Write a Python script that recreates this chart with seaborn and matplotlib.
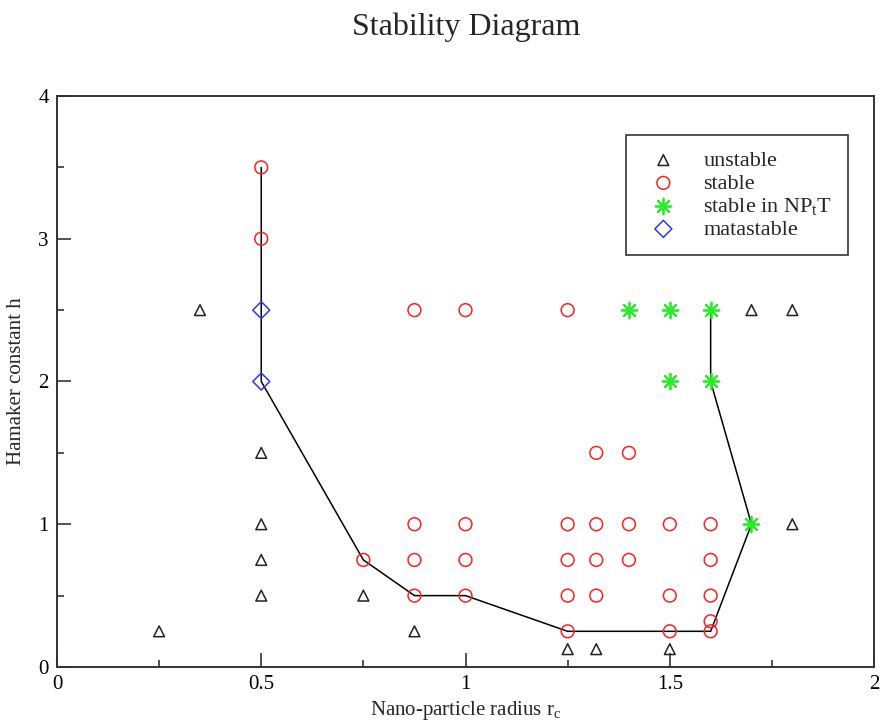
import matplotlib
matplotlib.use("Agg")
import matplotlib.pyplot as plt
import seaborn as sns
from matplotlib.ticker import MultipleLocator

unstable_x = [0.25, 0.35, 0.5, 0.5, 0.5, 0.5, 0.75, 0.875, 1.25, 1.32, 1.5, 1.7, 1.8, 1.8]
unstable_y = [0.25, 2.5, 1.5, 1.0, 0.75, 0.5, 0.5, 0.25, 0.125, 0.125, 0.125, 2.5, 2.5, 1.0]

stable_x = [0.5, 0.5, 0.875, 1.0, 1.25, 1.32, 1.4, 0.75,
            0.875, 0.875, 0.875, 1.0, 1.0, 1.0,
            1.25, 1.25, 1.25, 1.25, 1.32, 1.32, 1.32, 1.4, 1.4,
            1.5, 1.5, 1.5, 1.6, 1.6, 1.6, 1.6, 1.6]
stable_y = [3.5, 3.0, 2.5, 2.5, 2.5, 1.5, 1.5, 0.75,
            1.0, 0.75, 0.5, 1.0, 0.75, 0.5,
            1.0, 0.75, 0.5, 0.25, 1.0, 0.75, 0.5, 1.0, 0.75,
            1.0, 0.5, 0.25, 1.0, 0.75, 0.5, 0.32, 0.25]

nptt_x = [1.4, 1.5, 1.6, 1.5, 1.6, 1.7]
nptt_y = [2.5, 2.5, 2.5, 2.0, 2.0, 1.0]

meta_x = [0.5, 0.5]
meta_y = [2.5, 2.0]

boundary_x = [0.5, 0.5, 0.75, 0.875, 1.0, 1.25, 1.6, 1.7, 1.6, 1.6]
boundary_y = [3.5, 2.0, 0.75, 0.5, 0.5, 0.25, 0.25, 1.0, 2.0, 2.5]

x_ticks = [0, 0.5, 1, 1.5, 2]
x_ticklabels = ['0', '0.5', '1', '1.5', '2']
y_ticks = [0, 1, 2, 3, 4]
y_ticklabels = ['0', '1', '2', '3', '4']

sns.set_style("ticks")
plt.rcParams['font.family'] = ['Liberation Serif', 'DejaVu Serif']
plt.rcParams['mathtext.fontset'] = 'custom'
plt.rcParams['mathtext.rm'] = 'Liberation Serif'
plt.rcParams['mathtext.it'] = 'Liberation Serif'

fig = plt.figure(figsize=(8.82, 7.25), dpi=100)
ax = fig.add_axes([0.0646, 0.08, 0.9264, 0.7876])

sns.lineplot(x=boundary_x, y=boundary_y, sort=False, estimator=None, color='black',
             linewidth=1.1, ax=ax, zorder=1)

sns.scatterplot(x=unstable_x, y=unstable_y, marker='^', s=60, facecolor='none',
                edgecolor='#222222', linewidth=1.1, label='unstable', ax=ax, zorder=3)
sns.scatterplot(x=stable_x, y=stable_y, marker='o', s=85, facecolor='none',
                edgecolor='#ff2020', linewidth=1.1, label='stable', ax=ax, zorder=3)
sns.scatterplot(x=nptt_x, y=nptt_y, marker=(8, 2, 0), s=130, color='#22ee22',
                linewidth=1.3, label='stable in NP$_\\mathrm{t}$T', ax=ax, zorder=3)
sns.scatterplot(x=meta_x, y=meta_y, marker='D', s=75, facecolor='none',
                edgecolor='#3333ff', linewidth=1.1, label='matastable', ax=ax, zorder=3)

ax.set_xlim(0, 2)
ax.set_ylim(0, 4)
ax.set_xticks(x_ticks)
ax.set_xticklabels(x_ticklabels)
ax.set_yticks(y_ticks)
ax.set_yticklabels(y_ticklabels)
ax.xaxis.set_minor_locator(MultipleLocator(0.25))
ax.yaxis.set_minor_locator(MultipleLocator(0.5))
ax.tick_params(which='major', direction='in', length=10, width=1.2, labelsize=15,
               color='#333333', labelcolor='black', pad=6)
ax.tick_params(which='minor', direction='in', length=5, width=1.2, color='#333333')
for sp in ax.spines.values():
    sp.set_linewidth(1.4)
    sp.set_color('#333333')

ax.set_xlabel('Nano-particle radius r$_\\mathrm{c}$', fontsize=15, labelpad=3)
ax.set_ylabel('Hamaker constant h', fontsize=15, labelpad=9)
fig.text(0.528, 0.962, 'Stability Diagram', ha='center', va='center', fontsize=23)

leg = ax.legend(loc='upper right', bbox_to_anchor=(0.968, 0.932), fontsize=16,
                frameon=True, fancybox=False, edgecolor='#333333', framealpha=1,
                handlelength=2.0, handletextpad=0.8, labelspacing=0.1,
                borderpad=0.7, borderaxespad=0)
leg.get_frame().set_linewidth(1.2)

fig.savefig('out.png', dpi=100)
